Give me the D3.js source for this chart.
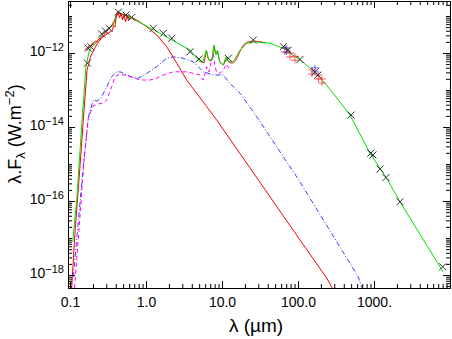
<!DOCTYPE html>
<html lang="en">
<head>
  <meta charset="UTF-8">
  <script src="https://d3js.org/d3.v7.min.js"></script>
  <style>
    body { margin: 0; background: #fff; }
  </style>
</head>
<body>
  <svg id="sed" width="452" height="339"></svg>

  <script>
    // stellar photosphere (red line)
    const starLam = [0.1047, 0.116, 0.1355, 0.153, 0.1675, 0.189, 0.2266, 0.28, 0.357, 0.43, 0.557, 0.755,
      1.02, 1.38, 1.87, 2.54, 3.43, 4.65, 6.29, 8.5, 106, 239, 290];
    const starF = [3.9e-19, 1.35e-17, 9.3e-16, 2.9e-14, 3.5e-13, 8.8e-13, 1.75e-12, 3.1e-12, 5.7e-12, 1.2e-11, 1.06e-11, 7.8e-12,
      5.1e-12, 3.06e-12, 1.48e-12, 5.3e-13, 1.86e-13, 8.1e-14, 3.54e-14, 1.55e-14, 8.9e-18, 8.2e-19, 4e-19];

    // observed optical spectrum (red, noisy)
    const optLam = [0.1575, 0.1648, 0.1725, 0.1806, 0.189, 0.1977, 0.2069, 0.2165, 0.2266, 0.2371, 0.2481, 0.2597,
      0.2717, 0.2843, 0.2976, 0.3114, 0.3259, 0.341, 0.3569, 0.3735, 0.3908, 0.409, 0.428, 0.4479, 0.4688, 0.4906,
      0.5134, 0.5373, 0.5623, 0.5884, 0.6158];
    const optF = [1.2e-12, 1.36e-12, 1.36e-12, 1.64e-12, 1.55e-12, 1.86e-12, 1.86e-12, 2.11e-12, 1.98e-12, 2.39e-12, 2.39e-12, 2.7e-12,
      2.7e-12, 3.06e-12, 3.06e-12, 3.47e-12, 3.47e-12, 3.94e-12, 3.94e-12, 5.37e-12, 5.05e-12, 1.13e-11, 1.36e-11, 8.83e-12, 1.2e-11, 7.8e-12,
      1.13e-11, 6.89e-12, 1.0e-11, 7.8e-12, 8.83e-12];

    // observed mid-IR spectrum (red)
    const irLam = [5.293, 5.799, 6.254, 6.544, 6.952, 7.386, 7.847, 8.212, 8.726, 9.27, 9.849, 10.46, 11.46,
      12.18, 13.14, 14.08, 15.29, 16.39, 17.52, 19.07, 21.01, 23.36, 26.37, 30.04, 33.6, 36.8];
    const irF = [6.08e-13, 5.37e-13, 1.13e-12, 7.33e-13, 6.08e-13, 6.47e-13, 1.55e-12, 9.4e-13, 1.13e-12, 6.08e-13, 5.05e-13, 4.74e-13, 7.8e-13,
      5.71e-13, 5.37e-13, 5.37e-13, 6.47e-13, 8.83e-13, 1.2e-12, 1.64e-12, 1.92e-12, 2.05e-12, 2.11e-12, 2.05e-12, 1.98e-12, 1.86e-12];

    // total model (green)
    const totalLam = [0.1085, 0.1225, 0.144, 0.162, 0.18, 0.224, 0.274, 0.371, 0.41, 0.43, 0.65, 1.53, 3.8, 5.1, 5.6,
      6.2, 6.7, 7.4, 7.85, 8.34, 8.73, 9.3, 10.4, 11.46, 12.1, 14.1, 17.3, 21.1, 27.2, 34.9, 42.8, 64.1, 106, 176,
      291, 483, 886, 1469, 2198, 8090];
    const totalF = [7.9e-18, 1.07e-16, 1.55e-14, 4.3e-13, 1.2e-12, 2.0e-12, 3.4e-12, 5.7e-12, 1.18e-11, 1.29e-11, 8.7e-12, 3.4e-12, 1.2e-12, 5.8e-13, 5.7e-13,
      1.2e-12, 6.5e-13, 6.5e-13, 1.65e-12, 8.8e-13, 1.2e-12, 5.7e-13, 4.8e-13, 8.3e-13, 5.8e-13, 5.8e-13, 1.2e-12, 1.83e-12, 2.0e-12, 1.9e-12, 1.83e-12, 1.34e-12, 6.5e-13, 2.8e-13,
      8.1e-14, 2.1e-14, 1.95e-15, 4.1e-16, 9.5e-17, 1.23e-18];

    // component 1 (blue dash-dot)
    const hotLam = [0.1105, 0.127, 0.148, 0.174, 0.203, 0.2266, 0.256, 0.298, 0.354, 0.412, 0.469, 0.557, 0.654, 0.792,
      1.02, 1.38, 1.87, 2.29, 3.1, 4.19, 5.67, 7.68, 10.4, 12.7, 17.3, 28.6, 106, 621, 695];
    const hotF = [8.9e-19, 2.2e-17, 6.9e-16, 1.86e-14, 5.4e-14, 5.0e-14, 6.1e-14, 1.13e-13, 2.3e-13, 3.1e-13, 3.06e-13, 2.54e-13, 2.24e-13, 2.07e-13,
      2.8e-13, 4.26e-13, 7.2e-13, 7.9e-13, 7.2e-13, 5.8e-13, 3.1e-13, 2.54e-13, 2.54e-13, 1.51e-13, 8.1e-14, 1.9e-14, 3.3e-16, 8.9e-19, 4.5e-19];

    // component 2 (magenta dashed)
    const pahLam = [0.1147, 0.131, 0.153, 0.174, 0.201, 0.234, 0.272, 0.304, 0.354, 0.391, 0.455, 0.616, 0.834, 1.13,
      1.4, 1.69, 2.29, 3.43, 5.13, 5.67, 6.29, 6.74, 7.17, 7.68, 8.09, 8.5, 9.41, 10.4, 11.5, 12.2, 13.4];
    const pahF = [4.5e-19, 1.65e-17, 1.3e-15, 1.75e-14, 3.7e-14, 4.2e-14, 4.4e-14, 5.4e-14, 1.23e-13, 2.3e-13, 2.7e-13, 2.3e-13, 1.86e-13, 1.86e-13,
      2.1e-13, 2.54e-13, 3.1e-13, 3.1e-13, 2.54e-13, 1.86e-13, 4.26e-13, 3.06e-13, 5.7e-13, 9.8e-13, 4.26e-13, 3.1e-13, 2.8e-13, 3.5e-13, 5.0e-13, 3.9e-13, 4.7e-13];

    // photometry (black crosses)
    const photLam = [0.169, 0.174, 0.186, 0.261, 0.293, 0.326, 0.432, 0.545, 0.648, 1.25, 1.69, 2.18, 3.79, 4.98, 12.1,
      25.8, 64.1, 73.9, 106, 167, 183, 498, 905, 970, 1199, 1438, 2198, 8017];
    const photF = [5.3e-13, 1.34e-12, 1.48e-12, 3.27e-12, 3.9e-12, 4.65e-12, 1.27e-11, 1.06e-11, 9.1e-12, 4.65e-12, 3.4e-12, 2.5e-12, 1.08e-12, 6.9e-13, 7.2e-13,
      2.24e-12, 1.48e-12, 1.2e-12, 6.7e-13, 3.07e-13, 2.54e-13, 2.1e-14, 1.95e-15, 1.75e-15, 7.3e-16, 4.3e-16, 9.5e-17, 1.67e-18];

    // far-IR photometry (red and blue plus signs)
    const redPtLam = [67.4, 78.5, 91.3, 153, 185, 207];
    const redPtF = [1.2e-12, 8.8e-13, 7.2e-13, 3.07e-13, 2.24e-13, 1.75e-13];
    const bluePtLam = [71, 167];
    const bluePtF = [1.2e-12, 3.5e-13];

    // axis ticks
    const xMajor = [0.1, 1, 10, 100, 1000];
    const xTickLabels = ["0.1", "1.0", "10.0", "100.0", "1000."];
    const yMajor = [1e-18, 1e-16, 1e-14, 1e-12];
    const yTickExp = ["\u221218", "\u221216", "\u221214", "\u221212"];

    const font = "'Liberation Sans', Arial, Helvetica, sans-serif";
    const svg = d3.select("#sed");
    const plot = { left: 68, right: 450, top: 1, bottom: 288 };

    const x = d3.scaleLog().domain([0.094, 1e4]).range([plot.left, plot.right]);
    const y = d3.scaleLog().domain([4.46e-19, 2.54e-11]).range([plot.bottom, plot.top]);

    svg.append("defs").append("clipPath").attr("id", "clip")
      .append("rect")
      .attr("x", plot.left).attr("y", plot.top)
      .attr("width", plot.right - plot.left).attr("height", plot.bottom - plot.top);

    const line = d3.line().x(d => x(d[0])).y(d => y(d[1]));
    const curves = svg.append("g").attr("clip-path", "url(#clip)");

    const addLine = function (lam, f, color, dash) {
      curves.append("path")
        .datum(d3.zip(lam, f))
        .attr("d", line)
        .attr("fill", "none")
        .attr("stroke", color)
        .attr("stroke-width", 1)
        .attr("stroke-dasharray", dash);
    };

    addLine(hotLam, hotF, "#3a3aff", "5,2,1,2");
    addLine(pahLam, pahF, "#ff00ff", "4,3");
    addLine(starLam, starF, "#ff0000", null);
    addLine(irLam, irF, "#ff2020", null);
    addLine(totalLam, totalF, "#00dd00", null);
    addLine(optLam, optF, "#ff0000", null);

    // plus-type markers with small bars
    const addPlus = function (lam, f, color) {
      curves.selectAll(null).data(d3.zip(lam, f))
        .join("path")
        .attr("transform", d => "translate(" + x(d[0]) + "," + y(d[1]) + ")")
        .attr("d", "M0,-5V5M-4,-2H4M-4,2H4")
        .attr("fill", "none")
        .attr("stroke", color)
        .attr("stroke-width", 0.8);
    };
    addPlus(redPtLam, redPtF, "#ff3030");
    addPlus(bluePtLam, bluePtF, "#4040ff");

    curves.selectAll("path.phot").data(d3.zip(photLam, photF))
      .join("path")
      .attr("class", "phot")
      .attr("transform", d => "translate(" + x(d[0]) + "," + y(d[1]) + ")")
      .attr("d", "M-3.5,-3.5L3.5,3.5M-3.5,3.5L3.5,-3.5")
      .attr("fill", "none")
      .attr("stroke", "#333")
      .attr("stroke-width", 1);

    // minor tick positions
    const xMinor = [];
    for (let e = -2; e <= 3; e++) {
      for (let k = 2; k <= 9; k++) {
        const v = k * Math.pow(10, e);
        if (v > x.domain()[0] && v < x.domain()[1]) xMinor.push(v);
      }
    }
    const yMinor = [];
    for (let e = -19; e <= -11; e++) {
      for (let k = 1; k <= 9; k++) {
        const v = k * Math.pow(10, e);
        if (v > y.domain()[0] && v < y.domain()[1] && !yMajor.includes(v)) yMinor.push(v);
      }
    }

    const axes = svg.append("g").attr("font-family", font);

    const drawAxis = function (axisFn, scale, values, size, tx, ty) {
      return axes.append("g")
        .attr("transform", "translate(" + tx + "," + ty + ")")
        .call(axisFn(scale).tickValues(values).tickSizeInner(-size).tickSizeOuter(0).tickFormat(() => ""));
    };

    // minor ticks on all four sides
    drawAxis(d3.axisBottom, x, xMinor, 4, 0, plot.bottom);
    drawAxis(d3.axisTop, x, xMinor, 4, 0, plot.top);
    drawAxis(d3.axisLeft, y, yMinor, 4, plot.left, 0);
    drawAxis(d3.axisRight, y, yMinor, 4, plot.right, 0);
    drawAxis(d3.axisTop, x, xMajor, 7, 0, plot.top);
    drawAxis(d3.axisRight, y, yMajor, 7, plot.right, 0);

    // labelled axes
    axes.append("g")
      .attr("transform", "translate(0," + plot.bottom + ")")
      .call(d3.axisBottom(x).tickValues(xMajor).tickSizeInner(-7).tickSizeOuter(0).tickPadding(9)
        .tickFormat((d, i) => xTickLabels[i]))
      .call(g => g.selectAll(".tick text").attr("font-size", 14).attr("fill", "#000").attr("font-family", font));

    const yAxisG = axes.append("g")
      .attr("transform", "translate(" + plot.left + ",0)")
      .call(d3.axisLeft(y).tickValues(yMajor).tickSizeInner(-7).tickSizeOuter(0).tickPadding(4)
        .tickFormat(() => ""));
    yAxisG.selectAll(".tick text")
      .attr("font-size", 14).attr("fill", "#000").attr("font-family", font)
      .attr("dy", "0.2em")
      .each(function (d) {
        const t = d3.select(this);
        t.append("tspan").text("10");
        t.append("tspan").attr("dy", "-0.5em").attr("font-size", 11).text(yTickExp[yMajor.indexOf(d)]);
      });

    axes.selectAll(".domain, .tick line").attr("stroke", "#000");

    // axis titles
    svg.append("text")
      .attr("x", (plot.left + plot.right) / 2 - 3)
      .attr("y", 332)
      .attr("text-anchor", "middle")
      .attr("font-family", font)
      .attr("font-size", 19)
      .text("\u03bb (\u00b5m)");

    const yTitle = svg.append("text")
      .attr("transform", "translate(21,134) rotate(-90)")
      .attr("text-anchor", "middle")
      .attr("font-family", font)
      .attr("font-size", 18);
    yTitle.append("tspan").text("\u03bb.F");
    yTitle.append("tspan").attr("dy", 4).attr("font-size", 13).text("\u03bb");
    yTitle.append("tspan").attr("dy", -4).text(" (W.m");
    yTitle.append("tspan").attr("dy", -7).attr("font-size", 13).text("\u22122");
    yTitle.append("tspan").attr("dy", 7).text(")");
  </script>
</body>
</html>
